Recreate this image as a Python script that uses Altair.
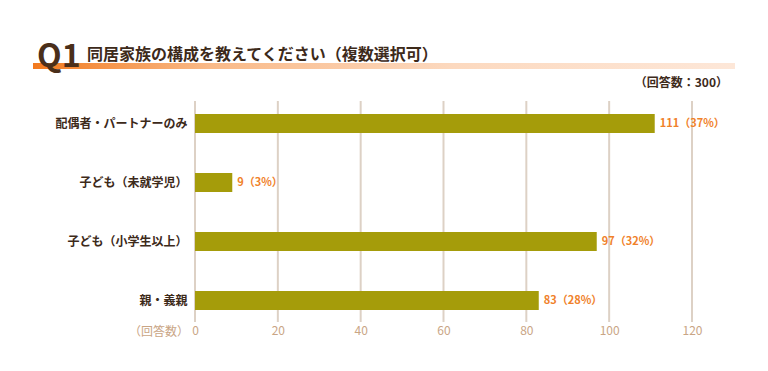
import altair as alt
import pandas as pd

categories = ["配偶者・パートナーのみ", "子ども（未就学児）", "子ども（小学生以上）", "親・義親"]
counts = [111, 9, 97, 83]
percents = [37, 3, 32, 28]
tick_values = [0, 20, 40, 60, 80, 100, 120]

title_q = "Q1"
title_text = "同居家族の構成を教えてください（複数選択可）"
respondents = "（回答数：300）"
axis_unit = "（回答数）"

FONT = "Noto Sans CJK JP"

df = pd.DataFrame({
    "cat": categories,
    "count": counts,
    "label": [f"{c}（{p}%）" for c, p in zip(counts, percents)],
})
ticks_df = pd.DataFrame({"v": tick_values})

xscale = alt.Scale(domain=[0, 120], nice=False, zero=True)
yscale = alt.Scale(domain=categories, paddingInner=0.68, paddingOuter=0.34)

grid = alt.Chart(ticks_df).mark_rule(color="#ddd1c5", strokeWidth=2).encode(
    x=alt.X("v:Q", scale=xscale,
            axis=alt.Axis(values=tick_values, domain=False, ticks=False, grid=False,
                          labelColor="#c9a585", labelFontSize=12, labelFont=FONT,
                          labelFlush=False, labelPadding=0, offset=-5, title=None)),
    y=alt.value(7),
    y2=alt.value(228),
)

bars = alt.Chart(df).mark_bar(color="#a59c0a").encode(
    x=alt.X("count:Q", scale=xscale),
    y=alt.Y("cat:N", scale=yscale, sort=categories,
            axis=alt.Axis(domain=False, ticks=False, grid=False, title=None,
                          labelColor="#3d2a1a", labelFontSize=12, labelFont=FONT,
                          labelFontWeight="bold", labelPadding=8)),
)

labels = alt.Chart(df).mark_text(
    align="left", baseline="middle", dx=5, color="#f0812a",
    fontSize=11, fontWeight="bold", font=FONT,
).encode(
    x=alt.X("count:Q", scale=xscale),
    y=alt.Y("cat:N", scale=yscale, sort=categories),
    text="label:N",
)

band = alt.Chart(pd.DataFrame({"a": [0]})).mark_rect(
    fill=alt.Gradient(
        gradient="linear",
        stops=[
            alt.GradientStop(color="#f27a1e", offset=0),
            alt.GradientStop(color="#f9b987", offset=0.25),
            alt.GradientStop(color="#fcd9bf", offset=0.6),
            alt.GradientStop(color="#fde7d8", offset=1),
        ],
        x1=0, x2=1, y1=0, y2=0,
    )
).encode(x=alt.value(-162), x2=alt.value(540), y=alt.value(-31), y2=alt.value(-25))

qtext = alt.Chart(pd.DataFrame({"t": [title_q]})).mark_text(
    align="left", baseline="alphabetic", fontSize=32, fontWeight="bold",
    color="#4a2f1a", font=FONT,
).encode(x=alt.value(-158), y=alt.value(-27), text="t:N")

ttext = alt.Chart(pd.DataFrame({"t": [title_text]})).mark_text(
    align="left", baseline="alphabetic", fontSize=16, fontWeight="bold",
    color="#3d2a1a", font=FONT,
).encode(x=alt.value(-108), y=alt.value(-34), text="t:N")

rtext = alt.Chart(pd.DataFrame({"t": [respondents]})).mark_text(
    align="right", baseline="middle", fontSize=12, fontWeight="bold",
    color="#3d2a1a", font=FONT,
).encode(x=alt.value(533), y=alt.value(-11), text="t:N")

utext = alt.Chart(pd.DataFrame({"t": [axis_unit]})).mark_text(
    align="right", baseline="middle", fontSize=12,
    color="#c9a585", font=FONT,
).encode(x=alt.value(-6), y=alt.value(238), text="t:N")

chart = alt.layer(grid, bars, labels, band, qtext, ttext, rtext, utext).properties(
    width=497, height=236,
    autosize=alt.AutoSizeParams(type="none"),
    padding={"left": 187, "top": 86, "right": 68, "bottom": 30},
    background="white",
).configure_view(stroke=None)

chart.save("out.html", embed_options={"renderer": "svg", "actions": False})
